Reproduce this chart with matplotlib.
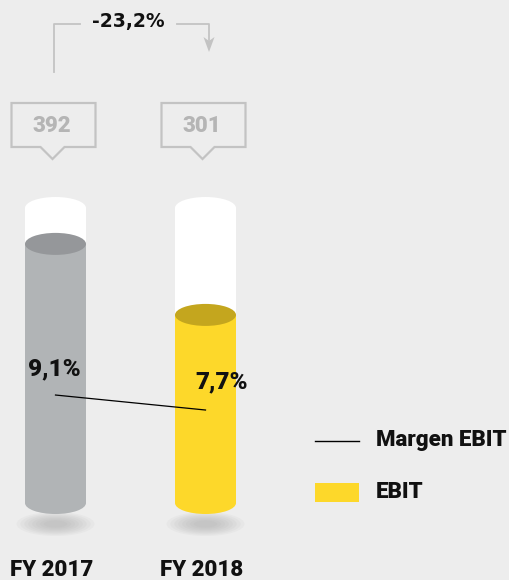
import matplotlib.pyplot as plt
from matplotlib.patches import Ellipse, Rectangle, Polygon

# data
years = ['FY 2017', 'FY 2018']
ebit = [392, 301]
ebit_labels = ['392', '301']
margin = [9.1, 7.7]
margin_labels = ['9,1%', '7,7%']
change_label = '-23,2%'

bg_color = '#ededed'
body_colors = ['#b1b4b6', '#fdd82a']
top_colors = ['#95979a', '#c4a61e']
box_grey = '#c3c3c3'
plt.rcParams['font.family'] = ['Roboto', 'DejaVu Sans']
wt = 'heavy'

fig = plt.figure(figsize=(5.1, 5.8), dpi=100)
fig.patch.set_facecolor(bg_color)

# background axes in pixel coords (y down)
bg = fig.add_axes([0, 0, 1, 1])
bg.set_xlim(0, 510)
bg.set_ylim(580, 0)
bg.axis('off')

# cylinder axes: EBIT scale
ax = fig.add_axes([0, 77 / 580, 1, 295 / 580])
ax.set_xlim(-55.5 / 150, 454.5 / 150)
base, cap = 60, 438
ax.set_ylim(base, cap)
ax.axis('off')
ax.patch.set_alpha(0)

# margin scale
axm = ax.twinx()
axm.set_ylim(-0.98, 26.56)
axm.axis('off')

w = 61 / 150
eh = 22 / (295 / (cap - base))

for i, v in enumerate(ebit):
    # white container
    ax.add_patch(Rectangle((i - w / 2, base), w, cap - base, color='white', lw=0, clip_on=False))
    ax.add_patch(Ellipse((i, cap), w, eh, color='white', lw=0, clip_on=False))
    # filled part
    ax.add_patch(Ellipse((i, base), w, eh, color=body_colors[i], lw=0, clip_on=False))
    ax.add_patch(Rectangle((i - w / 2, base), w, v - base, color=body_colors[i], lw=0, clip_on=False))
    ax.add_patch(Ellipse((i, v), w, eh, color=top_colors[i], lw=0, clip_on=False))

fig.canvas.draw()
cx = [ax.transData.transform((i, 0))[0] for i in range(len(years))]

# shadows under cylinders
for c in cx:
    for k in range(8):
        s = 1 - k * 0.1
        bg.add_patch(Ellipse((c, 524), 78 * s, 24 * s, color='#9a9a9a', alpha=0.07, lw=0, zorder=0))

# year labels
for c, t in zip(cx, years):
    bg.text(c - 4, 570, t, ha='center', va='center', fontsize=16, fontweight=wt, color='#111111')

# margin line and labels
axm.plot(range(len(margin)), margin, color='black', lw=0.9, zorder=5)
axm.annotate(margin_labels[0], (0, margin[0]), xytext=(-1, 26), textcoords='offset pixels',
             ha='center', va='center', fontsize=17.5, fontweight=wt, color='#111111')
axm.annotate(margin_labels[1], (1, margin[1]), xytext=(16, 28), textcoords='offset pixels',
             ha='center', va='center', fontsize=17.5, fontweight=wt, color='#111111')

# value boxes with pointer
for c, t in zip(cx, ebit_labels):
    x0, x1, y0, y1 = c - 44, c + 40, 103, 147
    m = c - 3
    pts = [(x0, y0), (x1, y0), (x1, y1), (m + 12, y1), (m, y1 + 12), (m - 12, y1), (x0, y1)]
    bg.add_patch(Polygon(pts, closed=True, fill=False, edgecolor=box_grey, lw=1.6))
    bg.text(c - 4, 126, t, ha='center', va='center', fontsize=16, fontweight=wt, color='#b5b5b5')

# change bracket with arrow
bg.plot([cx[0] - 1.5, cx[0] - 1.5, 80], [72, 24, 24], color=box_grey, lw=1.3)
bg.plot([177, cx[1] + 3.5, cx[1] + 3.5], [24, 24, 40], color=box_grey, lw=1.3)
a = cx[1] + 3.5
bg.add_patch(Polygon([(a - 5.5, 37), (a, 41), (a + 5.5, 37), (a, 52)], closed=True,
                     color=box_grey, lw=0))
bg.text(128.5, 21.5, change_label, ha='center', va='center', fontsize=13.5,
        fontweight='bold', family=['DejaVu Sans'], color='#111111')

# legend
bg.plot([315, 359], [441, 441], color='black', lw=1)
bg.text(376, 440, 'Margen EBIT', ha='left', va='center', fontsize=16, fontweight=wt, color='#111111')
bg.add_patch(Rectangle((315, 483), 44, 19, color=body_colors[1], lw=0))
bg.text(376, 492, 'EBIT', ha='left', va='center', fontsize=16, fontweight=wt, color='#111111')

fig.savefig('out.png', dpi=100, facecolor=bg_color)
